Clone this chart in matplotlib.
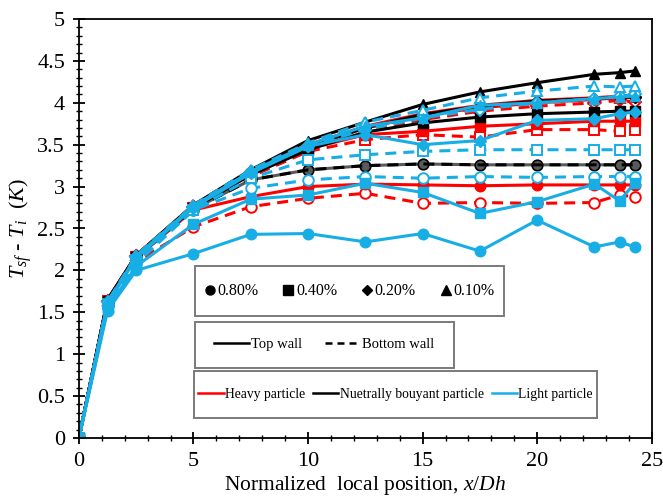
import matplotlib
matplotlib.use("Agg")
import matplotlib.pyplot as plt
from matplotlib.lines import Line2D
from matplotlib.patches import Rectangle
from matplotlib.ticker import MultipleLocator

plt.rcParams['font.family'] = ['Liberation Serif', 'DejaVu Serif']
plt.rcParams['mathtext.fontset'] = 'custom'
plt.rcParams['mathtext.rm'] = 'Liberation Serif'
plt.rcParams['mathtext.it'] = 'Liberation Serif:italic'

# Normalized position along the channel
x_pos = [0, 1.25, 2.5, 5, 7.5, 10, 12.5, 15, 17.5, 20, 22.5, 23.6, 24.25]

# Heavy particles
heavy_c_top = [0, 1.63, 2.15, 2.72, 2.88, 3.00, 3.03, 3.02, 3.01, 3.02, 3.02, 3.02, 3.02]
heavy_c_bot = [0, 1.60, 2.10, 2.52, 2.76, 2.86, 2.92, 2.80, 2.81, 2.80, 2.81, 2.90, 2.88]
heavy_s_top = [0, 1.64, 2.17, 2.76, 3.15, 3.45, 3.62, 3.66, 3.72, 3.75, 3.78, 3.78, 3.78]
heavy_s_bot = [0, 1.63, 2.16, 2.74, 3.12, 3.42, 3.56, 3.62, 3.59, 3.68, 3.68, 3.66, 3.68]
heavy_d_top = [0, 1.65, 2.18, 2.77, 3.18, 3.48, 3.70, 3.85, 3.94, 4.00, 4.04, 4.06, 4.07]
heavy_d_bot = [0, 1.64, 2.17, 2.76, 3.17, 3.46, 3.66, 3.80, 3.90, 3.96, 4.00, 4.03, 4.01]
heavy_t_top = [0, 1.65, 2.18, 2.78, 3.19, 3.50, 3.72, 3.87, 3.97, 4.03, 4.06, 4.08, 4.09]
heavy_t_bot = [0, 1.65, 2.18, 2.78, 3.19, 3.49, 3.70, 3.84, 3.94, 4.00, 4.04, 4.06, 4.07]

# Neutrally buoyant particles (top and bottom walls coincide)
neutral_c = [0, 1.62, 2.15, 2.73, 3.08, 3.20, 3.25, 3.27, 3.26, 3.26, 3.26, 3.26, 3.26]
neutral_s = [0, 1.63, 2.16, 2.74, 3.14, 3.44, 3.65, 3.76, 3.83, 3.87, 3.89, 3.90, 3.90]
neutral_d = [0, 1.64, 2.17, 2.76, 3.17, 3.48, 3.70, 3.86, 3.96, 4.02, 4.05, 4.07, 4.07]
neutral_t = [0, 1.65, 2.18, 2.78, 3.20, 3.55, 3.77, 3.98, 4.13, 4.24, 4.34, 4.36, 4.38]

# Light particles
light_c_top = [0, 1.52, 2.00, 2.20, 2.43, 2.44, 2.34, 2.44, 2.23, 2.60, 2.28, 2.34, 2.28]
light_c_bot = [0, 1.58, 2.08, 2.72, 2.98, 3.08, 3.12, 3.10, 3.12, 3.11, 3.12, 3.12, 3.12]
light_s_top = [0, 1.55, 2.05, 2.55, 2.85, 2.90, 3.04, 2.93, 2.68, 2.82, 3.03, 2.83, 3.04]
light_s_bot = [0, 1.60, 2.12, 2.72, 3.10, 3.32, 3.38, 3.42, 3.44, 3.44, 3.44, 3.44, 3.44]
light_d_top = [0, 1.60, 2.15, 2.75, 3.16, 3.48, 3.62, 3.50, 3.55, 3.79, 3.81, 3.87, 3.89]
light_d_bot = [0, 1.62, 2.16, 2.76, 3.17, 3.48, 3.68, 3.82, 3.92, 4.00, 4.05, 4.08, 4.10]
light_t_top = [0, 1.62, 2.17, 2.77, 3.18, 3.50, 3.72, 3.82, 3.97, 4.00, 4.05, 4.07, 4.08]
light_t_bot = [0, 1.63, 2.18, 2.78, 3.20, 3.52, 3.77, 3.91, 4.06, 4.14, 4.20, 4.19, 4.20]

conc_labels = ['0.80%', '0.40%', '0.20%', '0.10%']
wall_labels = ['Top wall', 'Bottom wall']
particle_labels = ['Heavy particle', 'Nuetrally bouyant particle', 'Light particle']

RED = '#FF0000'
BLUE = '#17AEE6'
BLACK = '#000000'
MARKERS = ['o', 's', 'D', '^']
MSIZE = {'o': 7.6, 's': 7.0, 'D': 6.0, '^': 7.6}
LW = 2.2
DASH = (3.6, 2.3)

fig = plt.figure(figsize=(6.63, 5.0), dpi=100)
ax = fig.add_axes([0.119, 0.124, 0.864, 0.838])


def draw(y, color, marker, top=True, z=2):
    ms = MSIZE[marker]
    if top:
        ax.plot(x_pos, y, color=color, lw=LW, marker=marker, ms=ms,
                mfc=color, mec=color, mew=1.0, zorder=z)
    else:
        ax.plot(x_pos, y, color=color, lw=LW, ls=(0, DASH), marker=marker,
                ms=ms, mfc='white', mec=color, mew=1.4, zorder=z)


# Heavy particle curves
for top, bot, m in zip([heavy_c_top, heavy_s_top, heavy_d_top, heavy_t_top],
                       [heavy_c_bot, heavy_s_bot, heavy_d_bot, heavy_t_bot],
                       MARKERS):
    draw(bot, RED, m, top=False, z=2)
    draw(top, RED, m, top=True, z=2.1)

# Neutrally buoyant particle curves
ax.plot(x_pos, neutral_c, color='#5a5a5a', lw=LW, marker='o', ms=MSIZE['o'],
        mfc='#5a5a5a', mec=BLACK, mew=1.2, zorder=2.2)
ax.plot(x_pos, neutral_c, color=BLACK, lw=LW, ls=(0, DASH), zorder=2.2)
for y, m in zip([neutral_s, neutral_d, neutral_t], MARKERS[1:]):
    draw(y, BLACK, m, top=True, z=2.2)

# Light particle curves
for top, bot, m in zip([light_c_top, light_s_top, light_d_top, light_t_top],
                       [light_c_bot, light_s_bot, light_d_bot, light_t_bot],
                       MARKERS):
    draw(bot, BLUE, m, top=False, z=2.3)
    draw(top, BLUE, m, top=True, z=2.4)

ax.set_xlim(0, 25)
ax.set_ylim(0, 5)
ax.xaxis.set_major_locator(MultipleLocator(5))
ax.xaxis.set_minor_locator(MultipleLocator(1))
ax.yaxis.set_major_locator(MultipleLocator(0.5))
ax.yaxis.set_minor_locator(MultipleLocator(0.1))
ax.yaxis.set_major_formatter(plt.FuncFormatter(lambda v, p: f'{v:g}'))
ax.tick_params(which='major', direction='inout', length=8, width=1.3,
               labelsize=16, pad=6, top=False, right=False)
ax.tick_params(which='minor', direction='inout', length=5, width=1.0,
               top=False, right=False)
for s in ax.spines.values():
    s.set_linewidth(1.3)

ax.set_xlabel('Normalized  local position, $x/Dh$', fontsize=15.5, labelpad=2)
ax.set_ylabel('$T_{sf}$ - $T_{i}$  $(K)$', fontsize=16, labelpad=2)

# Legend boxes (axes fraction: x, y, width, height)
boxes = [(0.202, 0.291, 0.540, 0.119),
         (0.202, 0.167, 0.452, 0.111),
         (0.201, 0.048, 0.704, 0.111)]
for bx, by, bw, bh in boxes:
    ax.add_patch(Rectangle((bx, by), bw, bh, transform=ax.transAxes,
                           facecolor='white', edgecolor='#7a7a7a', lw=1.4,
                           zorder=5))


def centre(b):
    return (b[0] + b[2] / 2, b[1] + b[3] / 2)


conc_handles = [Line2D([], [], ls='none', marker=m, color=BLACK,
                       ms={'o': 6.5, 's': 6.5, 'D': 5, '^': 6.5}[m])
                for m in MARKERS]
leg1 = ax.legend(conc_handles, conc_labels, loc='center',
                 bbox_to_anchor=centre(boxes[0]),
                 ncol=4, frameon=False, fontsize=11.5, handlelength=0.7,
                 handletextpad=0.15, columnspacing=1.5)
leg1.set_zorder(6)
ax.add_artist(leg1)

wall_handles = [Line2D([], [], color=BLACK, lw=1.8),
                Line2D([], [], color=BLACK, lw=1.8, ls=(0, (2.8, 2.0)))]
leg2 = ax.legend(wall_handles, wall_labels, loc='center',
                 bbox_to_anchor=centre(boxes[1]),
                 ncol=2, frameon=False, fontsize=10.5, handlelength=2.4,
                 handletextpad=0.15, columnspacing=1.6)
leg2.set_zorder(6)
ax.add_artist(leg2)

part_handles = [Line2D([], [], color=c, lw=1.8) for c in (RED, BLACK, BLUE)]
leg3 = ax.legend(part_handles, particle_labels, loc='center',
                 bbox_to_anchor=centre(boxes[2]),
                 ncol=3, frameon=False, fontsize=9.8, handlelength=1.85,
                 handletextpad=0.1, columnspacing=0.6)
leg3.set_zorder(6)

fig.savefig('out.png', dpi=100)
